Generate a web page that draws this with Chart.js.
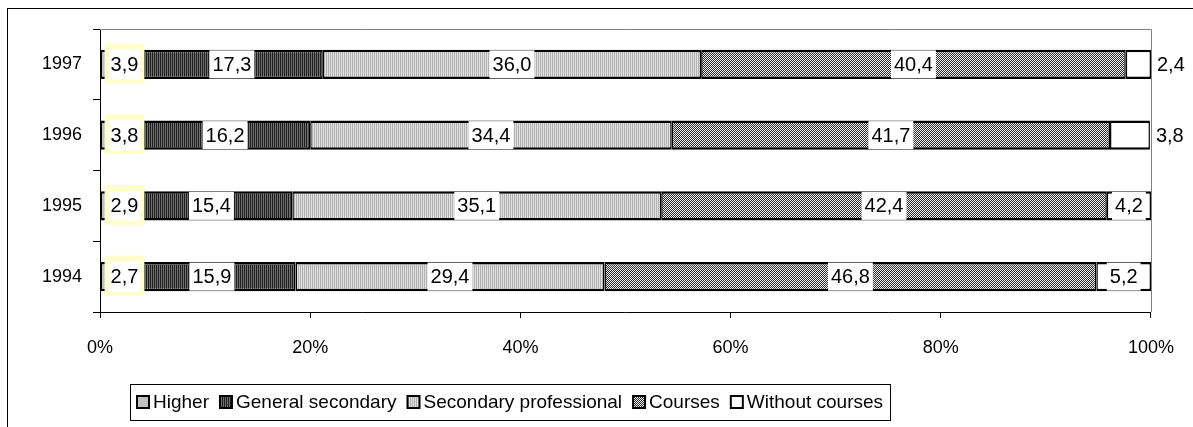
<!DOCTYPE html>
<html>
<head>
<meta charset="utf-8">
<script src="https://cdn.jsdelivr.net/npm/chart.js@4.4.1/dist/chart.umd.min.js"></script>
<style>
  html, body { margin: 0; padding: 0; background: #ffffff; }
  canvas { display: block; }
</style>
</head>
<body>
<canvas id="chart" width="1193" height="427"></canvas>
<script>
// Education structure by year, percent of total
const years = ['1997', '1996', '1995', '1994'];
const higher = [3.9, 3.8, 2.9, 2.7];
const generalSecondary = [17.3, 16.2, 15.4, 15.9];
const secondaryProfessional = [36.0, 34.4, 35.1, 29.4];
const courses = [40.4, 41.7, 42.4, 46.8];
const withoutCourses = [2.4, 3.8, 4.2, 5.2];
const seriesNames = ['Higher', 'General secondary', 'Secondary professional', 'Courses', 'Without courses'];
const percentTicks = [0, 20, 40, 60, 80, 100];

const FONT = '"Liberation Sans", Arial, sans-serif';
const AXIS_SIZE = 18;
const LABEL_SIZE = 20;
const LEGEND_SIZE = 19;
Chart.defaults.font.family = FONT;
Chart.defaults.font.size = AXIS_SIZE;
Chart.defaults.color = '#000000';

// Hatch / dot fills for the segments
function makePattern(w, h, paint) {
  const c = document.createElement('canvas');
  c.width = w; c.height = h;
  const g = c.getContext('2d');
  paint(g);
  return g.createPattern(c, 'repeat');
}
const fills = [
  '#c0c0c0',
  makePattern(2, 1, g => { g.fillStyle = '#1e1e1e'; g.fillRect(0, 0, 1, 1); g.fillStyle = '#707070'; g.fillRect(1, 0, 1, 1); }),
  makePattern(2, 1, g => { g.fillStyle = '#b2b2b2'; g.fillRect(0, 0, 1, 1); g.fillStyle = '#e0e0e0'; g.fillRect(1, 0, 1, 1); }),
  makePattern(2, 2, g => { g.fillStyle = '#2a2a2a'; g.fillRect(0, 0, 2, 2); g.fillStyle = '#f0f0f0'; g.fillRect(0, 0, 1, 1); g.fillRect(1, 1, 1, 1); }),
  '#ffffff'
];
const seriesValues = [higher, generalSecondary, secondaryProfessional, courses, withoutCourses];

const fmt = v => v.toFixed(1).replace('.', ',');

// Outer frame, plot top/right edges
const framePlugin = {
  id: 'frame',
  beforeDraw(chart) {
    const ctx = chart.ctx;
    ctx.save();
    ctx.fillStyle = '#ffffff';
    ctx.fillRect(0, 0, chart.width, chart.height);
    ctx.strokeStyle = '#000000';
    ctx.lineWidth = 1;
    ctx.strokeRect(7.5, 8.5, chart.width + 10, chart.height + 10);
    ctx.restore();
  },
  beforeDatasetsDraw(chart) {
    const { ctx, chartArea: a } = chart;
    ctx.save();
    ctx.strokeStyle = '#808080';
    ctx.lineWidth = 1;
    ctx.beginPath();
    ctx.moveTo(a.left, Math.round(a.top) + 0.5);
    ctx.lineTo(Math.round(a.right) + 0.5, Math.round(a.top) + 0.5);
    ctx.lineTo(Math.round(a.right) + 0.5, a.bottom);
    ctx.stroke();
    ctx.restore();
  }
};

// Value labels on the segments
const labelPlugin = {
  id: 'segmentLabels',
  afterDatasetsDraw(chart) {
    const ctx = chart.ctx;
    ctx.save();
    ctx.font = LABEL_SIZE + 'px ' + FONT;
    ctx.textBaseline = 'middle';
    chart.data.datasets.forEach((ds, di) => {
      const meta = chart.getDatasetMeta(di);
      meta.data.forEach((bar, i) => {
        const v = ds.data[i];
        const p = bar.getProps(['x', 'y', 'base', 'height'], true);
        const txt = fmt(v);
        const tw = ctx.measureText(txt).width;
        const start = Math.min(p.base, p.x), end = Math.max(p.base, p.x);
        if (di === 0) {
          const cx = start + 24;
          ctx.fillStyle = '#ffffcc';
          ctx.fillRect(cx - tw / 2 - 6, p.y - 21, tw + 12, 40);
          ctx.fillStyle = '#ffffff';
          ctx.fillRect(cx - tw / 2 - 2, p.y - 15, tw + 4, 30);
          ctx.fillStyle = '#000000';
          ctx.textAlign = 'center';
          ctx.fillText(txt, cx, p.y + 1);
        } else if (di === 4 && v < 4) {
          ctx.fillStyle = '#000000';
          ctx.textAlign = 'left';
          ctx.fillText(txt, end + 6, p.y + 1);
        } else {
          const cx = (start + end) / 2;
          ctx.fillStyle = '#ffffff';
          ctx.fillRect(cx - tw / 2 - 3, p.y - 14, tw + 6, 28);
          ctx.fillStyle = '#000000';
          ctx.textAlign = 'center';
          ctx.fillText(txt, cx, p.y + 1);
        }
      });
    });
    ctx.restore();
  }
};

// Boxed legend below the plot
const legendPlugin = {
  id: 'boxLegend',
  afterDraw(chart) {
    const ctx = chart.ctx;
    ctx.save();
    ctx.font = LEGEND_SIZE + 'px ' + FONT;
    ctx.textBaseline = 'middle';
    ctx.textAlign = 'left';
    const left = 130, top = 384, h = 36;
    const sw = 12, gapText = 4, gapItem = 11, pad = 7;
    let x = left + pad;
    const cy = top + h / 2;
    const items = chart.data.datasets.map((ds, i) => ({ label: ds.label, fill: fills[i] }));
    items.forEach((it, i) => {
      ctx.fillStyle = it.fill;
      ctx.fillRect(x, cy - sw / 2, sw, sw);
      ctx.strokeStyle = '#000000';
      ctx.lineWidth = 2;
      ctx.strokeRect(x, cy - sw / 2, sw, sw);
      x += sw + gapText;
      ctx.fillStyle = '#000000';
      ctx.fillText(it.label, x, cy + 1);
      x += ctx.measureText(it.label).width;
      if (i < items.length - 1) x += gapItem;
    });
    x += pad;
    ctx.strokeStyle = '#000000';
    ctx.lineWidth = 1;
    ctx.strokeRect(left + 0.5, top + 0.5, x - left, h);
    ctx.restore();
  }
};

const datasets = seriesValues.map((vals, i) => ({
  label: seriesNames[i],
  data: vals,
  backgroundColor: fills[i],
  borderColor: '#000000',
  borderWidth: { top: 2.5, bottom: 2.5, left: 1.5, right: 1.5 },
  borderSkipped: false,
  categoryPercentage: 1,
  barPercentage: 0.41
}));

new Chart(document.getElementById('chart'), {
  type: 'bar',
  data: { labels: years, datasets },
  options: {
    indexAxis: 'y',
    responsive: false,
    animation: false,
    events: [],
    layout: { padding: { top: 29, right: 41, left: 0, bottom: 0 } },
    plugins: { legend: { display: false }, tooltip: { enabled: false } },
    scales: {
      x: {
        type: 'linear',
        stacked: true,
        min: percentTicks[0],
        max: percentTicks[percentTicks.length - 1],
        afterBuildTicks(scale) { scale.ticks = percentTicks.map(v => ({ value: v })); },
        ticks: { callback: v => v + '%', padding: 19, maxRotation: 0, color: '#000000' },
        grid: { drawOnChartArea: false, drawTicks: true, tickLength: 6, color: '#000000' },
        border: { color: '#000000', width: 1 },
        afterFit(scale) { scale.height = 115; }
      },
      y: {
        type: 'category',
        stacked: true,
        ticks: { padding: 11, color: '#000000' },
        grid: { drawOnChartArea: false, drawTicks: true, tickLength: 7, color: '#000000', offset: true },
        border: { color: '#000000', width: 1 },
        afterFit(scale) { scale.width = 100; }
      }
    }
  },
  plugins: [framePlugin, labelPlugin, legendPlugin]
});
</script>
</body>
</html>
